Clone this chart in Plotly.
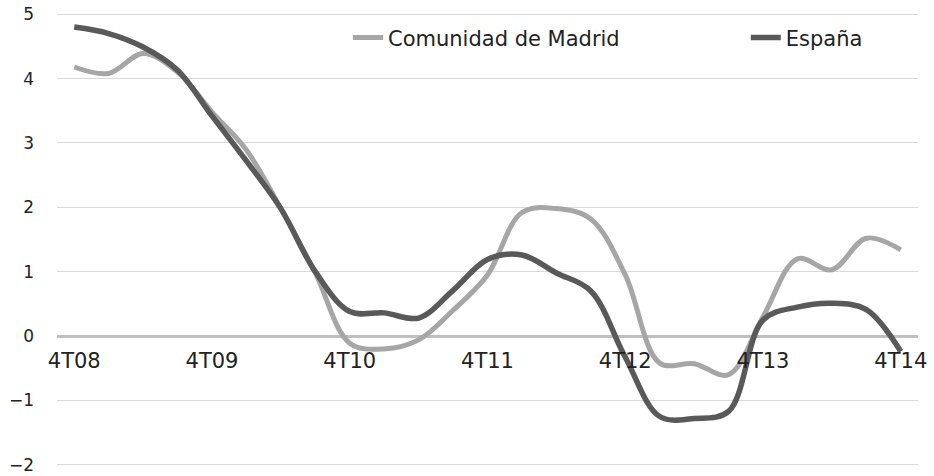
import plotly.graph_objects as go

quarters = ["4T08", "1T09", "2T09", "3T09", "4T09", "1T10", "2T10", "3T10",
            "4T10", "1T11", "2T11", "3T11", "4T11", "1T12", "2T12", "3T12",
            "4T12", "1T13", "2T13", "3T13", "4T13", "1T14", "2T14", "3T14", "4T14"]
tick_labels = ["4T08", "4T09", "4T10", "4T11", "4T12", "4T13", "4T14"]

madrid = [4.18, 4.08, 4.39, 4.10, 3.48, 2.89, 1.98, 0.98,
          -0.11, -0.20, -0.06, 0.40, 0.95, 1.92, 1.98, 1.82,
          0.95, -0.42, -0.43, -0.60, 0.30, 1.20, 1.03, 1.52, 1.34]
espana = [4.80, 4.70, 4.49, 4.13, 3.42, 2.72, 1.98, 1.00,
          0.38, 0.36, 0.28, 0.71, 1.19, 1.26, 0.98, 0.70,
          -0.33, -1.25, -1.28, -1.17, 0.25, 0.45, 0.51, 0.41, -0.24]

font_family = "DejaVu Sans"
text_color = "#222222"

fig = go.Figure()
fig.add_trace(go.Scatter(
    x=quarters, y=madrid, name="Comunidad de Madrid", mode="lines",
    line=dict(color="#a6a6a6", width=5, shape="spline", smoothing=1.0),
    legend="legend", showlegend=True,
))
fig.add_trace(go.Scatter(
    x=quarters, y=espana, name="España", mode="lines",
    line=dict(color="#595959", width=5.5, shape="spline", smoothing=1.0),
    legend="legend2", showlegend=True,
))

legend_common = dict(
    orientation="h", yanchor="middle", y=0.941,
    bgcolor="rgba(0,0,0,0)",
    font=dict(size=21, family=font_family, color=text_color),
)

fig.update_layout(
    width=934, height=476,
    showlegend=True,
    margin=dict(l=57, r=16, t=11, b=8, autoexpand=False),
    paper_bgcolor="white", plot_bgcolor="white",
    font=dict(family=font_family, color=text_color),
    legend=dict(x=0.338, xanchor="left", visible=True, **legend_common),
    legend2=dict(x=0.800, xanchor="left", visible=True, **legend_common),
    xaxis=dict(
        type="category", range=[-0.5, 24.5],
        tickmode="array", tickvals=tick_labels, ticktext=tick_labels,
        showgrid=False, showline=False, ticks="",
        anchor="free", position=2.05 / 7.1, automargin=False,
        tickfont=dict(size=21, family=font_family, color=text_color),
        ticklabelstandoff=10,
    ),
    yaxis=dict(
        range=[-2.05, 5.05], dtick=1, tick0=0, showgrid=True,
        gridcolor="#d9d9d9", gridwidth=1,
        zeroline=True, zerolinecolor="#bfbfbf", zerolinewidth=2.5,
        tickfont=dict(size=17, family=font_family, color=text_color),
        ticklabelstandoff=22, showline=False, ticks="", automargin=False,
    ),
)

fig.write_html(
    "out.html",
    config={"displayModeBar": False},
    post_script="document.body.style.margin='0';document.body.style.overflow='hidden';",
)
